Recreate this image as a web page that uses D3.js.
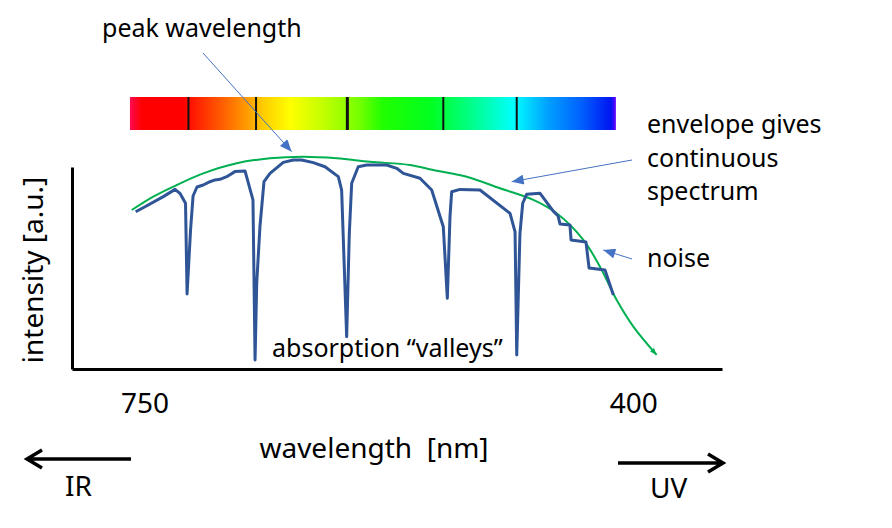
<!DOCTYPE html>
<html>
<head>
<meta charset="utf-8">
<script src="https://cdn.jsdelivr.net/npm/d3@7"></script>
<style>
  html, body { margin: 0; padding: 0; background: #fff; }
  svg { display: block; font-family: 'Noto Sans', 'Open Sans', sans-serif; }
</style>
</head>
<body>
<svg id="chart" width="892" height="528"></svg>
<script>
// measured spectrum, wavelength [nm] vs intensity [a.u.]
const measuredWl = [756.4, 749.7, 736.6, 728.2, 724.7, 720.7, 719.6, 717.1, 715.3, 712.5,
  708.0, 703.2, 699.6, 696.0, 691.2, 685.3, 678.1, 672.4, 670.9, 669.7, 667.4, 664.5,
  660.2, 650.7, 643.5, 637.5, 629.2, 620.8, 611.3, 608.9, 605.3, 603.4, 601.7, 597.0,
  590.9, 576.6, 569.5, 564.7, 552.8, 544.4, 536.1, 533.2, 531.3, 530.1, 524.1, 509.8,
  488.3, 484.7, 483.5, 481.2, 479.2, 476.4, 466.8, 457.5, 453.9, 452.5, 445.4, 444.6,
  433.9, 431.7, 420.3, 414.3];
const measuredIntensity = [71.6, 73.9, 78.5, 81.8, 80.0, 75.5, 34.2, 63.3, 78.8, 82.9,
  83.8, 85.3, 86.1, 86.4, 87.6, 89.9, 90.2, 77.0, 4.1, 39.2, 64.8, 85.3,
  89.1, 94.1, 95.2, 95.2, 94.0, 92.1, 87.6, 81.5, 14.7, 61.8, 84.6, 92.1,
  92.9, 92.9, 91.4, 89.1, 86.9, 81.5, 64.8, 32.2, 69.4, 80.7, 81.8, 81.5,
  70.9, 62.5, 6.4, 61.8, 75.5, 79.6, 80.0, 72.0, 69.7, 66.0, 65.6, 58.8,
  57.8, 46.0, 45.1, 33.7];

// smooth envelope = continuous spectrum
const envelopeWl = [759.2, 743.8, 727.0, 708.0, 684.0, 660.2, 636.4, 612.4, 588.6, 559.9,
  543.2, 519.3, 495.5, 471.6, 454.9, 435.8, 423.9, 411.9, 400.0, 383.3];
const envelopeIntensity = [72.4, 78.5, 83.8, 89.1, 93.7, 96.0, 96.7, 96.0, 94.4, 92.9,
  90.6, 87.6, 82.3, 77.0, 70.9, 58.8, 46.6, 31.4, 19.3, 6.4];

// dark lines in the spectrum strip (same as the absorption valleys)
const absorptionWl = [718.6, 670.2, 604.8, 536.1, 483.5];
const lineWidths = [2, 2, 3, 2, 2];
const barWl = [760.5, 412.5];

const axisTicks = [750, 400];

// colours across the strip, red end -> violet end
const stripOffsets = [0, 0.025, 0.11, 0.15, 0.2, 0.24, 0.27, 0.33, 0.4, 0.47, 0.52, 0.62, 0.72, 0.79, 0.86, 0.93, 0.99, 1];
const stripColors = ['#ff0a50', '#ff0000', '#ff0000', '#ff3000', '#ff6a00', '#ff9a00', '#ffc800',
  '#ffff00', '#c0ff00', '#78ff00', '#20ff00', '#00ff20', '#00ffa0', '#00ffff', '#00a0ff',
  '#0060ff', '#0014f0', '#6a00ff'];

const svg = d3.select('#chart');

const x = d3.scaleLinear().domain([802, 336.5]).range([72, 722]);
const y = d3.scaleLinear().domain([0, 92]).range([369, 167]);

const defs = svg.append('defs');

// spectrum strip gradient
const grad = defs.append('linearGradient')
    .attr('id', 'strip')
    .attr('x1', '0%').attr('x2', '100%');
grad.selectAll('stop')
    .data(stripOffsets)
    .join('stop')
    .attr('offset', (d) => d)
    .attr('stop-color', (d, i) => stripColors[i]);

// arrowheads
defs.append('marker')
    .attr('id', 'blueHead')
    .attr('markerUnits', 'userSpaceOnUse')
    .attr('viewBox', '0 0 12 10')
    .attr('markerWidth', 13).attr('markerHeight', 10)
    .attr('refX', 12).attr('refY', 5)
    .attr('orient', 'auto')
    .append('path')
    .attr('d', 'M0,0L12,5L0,10Z')
    .attr('fill', '#4472c4');

defs.append('marker')
    .attr('id', 'greenHead')
    .attr('markerUnits', 'userSpaceOnUse')
    .attr('viewBox', '0 0 8 6')
    .attr('markerWidth', 7).attr('markerHeight', 6)
    .attr('refX', 8).attr('refY', 3)
    .attr('orient', 'auto')
    .append('path')
    .attr('d', 'M0,0L8,3L0,6Z')
    .attr('fill', '#00b050');

// spectrum strip
const strip = svg.append('g');
strip.append('rect')
    .attr('x', x(barWl[0]))
    .attr('y', 97)
    .attr('width', x(barWl[1]) - x(barWl[0]))
    .attr('height', 33)
    .attr('fill', 'url(#strip)');
strip.selectAll('line')
    .data(absorptionWl)
    .join('line')
    .attr('x1', (d) => x(d)).attr('x2', (d) => x(d))
    .attr('y1', 97).attr('y2', 130)
    .attr('stroke', '#111')
    .attr('stroke-width', (d, i) => lineWidths[i]);

// axes
const xAxis = svg.append('g')
    .attr('transform', `translate(0,${y(0)})`)
    .call(d3.axisBottom(x).tickValues(axisTicks).tickSize(0).tickSizeOuter(0));
xAxis.select('.domain').attr('stroke', '#000').attr('stroke-width', 3);
xAxis.selectAll('text')
    .attr('y', 44).attr('dy', 0)
    .attr('fill', '#000')
    .style('font-size', '28px')
    .style('font-family', "'Noto Sans', 'Open Sans', sans-serif");

const yAxis = svg.append('g')
    .attr('transform', `translate(${x(802)},0)`)
    .call(d3.axisLeft(y).tickValues([]).tickSize(0).tickSizeOuter(0));
yAxis.select('.domain').attr('stroke', '#000').attr('stroke-width', 3);

// envelope
const envelope = envelopeWl.map((w, i) => [w, envelopeIntensity[i]]);
svg.append('path')
    .datum(envelope)
    .attr('d', d3.line()
        .x((d) => x(d[0]))
        .y((d) => y(d[1]))
        .curve(d3.curveCatmullRom.alpha(0.5)))
    .attr('fill', 'none')
    .attr('stroke', '#00b050')
    .attr('stroke-width', 2)
    .attr('marker-end', 'url(#greenHead)');

// measured spectrum
const measured = measuredWl.map((w, i) => [w, measuredIntensity[i]]);
svg.append('path')
    .datum(measured)
    .attr('d', d3.line()
        .x((d) => x(d[0]))
        .y((d) => y(d[1])))
    .attr('fill', 'none')
    .attr('stroke', '#2f5597')
    .attr('stroke-width', 3)
    .attr('stroke-linejoin', 'round');

// labels
const txt = (s, tx, ty, size, anchor) => svg.append('text')
    .attr('x', tx).attr('y', ty)
    .attr('text-anchor', anchor || 'start')
    .style('font-size', size + 'px')
    .attr('fill', '#000')
    .text(s);

txt('peak wavelength', 102, 37, 25);
txt('envelope gives', 647, 133, 25);
txt('continuous', 647, 167, 25);
txt('spectrum', 647, 200, 25);
txt('noise', 647, 267, 25);
txt('absorption \u201cvalleys\u201d', 272, 357, 25);
txt('wavelength\u00a0\u00a0[nm]', 374, 458, 28, 'middle');
txt('IR', 65, 496, 28);
txt('UV', 650, 498, 28);

svg.append('text')
    .attr('transform', 'translate(43,270) rotate(-90)')
    .attr('text-anchor', 'middle')
    .style('font-size', '28px')
    .text('intensity [a.u.]');

// annotation arrows, tip given in data space
const pointers = [
  {from: [203, 53], to: [644.7, 99.0]},
  {from: [632, 160], to: [487.1, 85.3]},
  {from: [632, 259], to: [421.5, 54.2]},
];
svg.append('g')
    .selectAll('line')
    .data(pointers)
    .join('line')
    .attr('x1', (d) => d.from[0]).attr('y1', (d) => d.from[1])
    .attr('x2', (d) => x(d.to[0])).attr('y2', (d) => y(d.to[1]))
    .attr('stroke', '#4472c4')
    .attr('stroke-width', 1)
    .attr('marker-end', 'url(#blueHead)');

// IR / UV direction arrows
const dirArrow = (x1, x2, yy) => {
  const dir = Math.sign(x2 - x1);
  svg.append('path')
      .attr('d', `M${x1},${yy}H${x2}M${x2 - dir * 15},${yy - 9}L${x2},${yy}L${x2 - dir * 15},${yy + 9}`)
      .attr('fill', 'none')
      .attr('stroke', '#000')
      .attr('stroke-width', 3.5);
};
dirArrow(131, 27, 459);
dirArrow(618, 723, 463);
</script>
</body>
</html>
